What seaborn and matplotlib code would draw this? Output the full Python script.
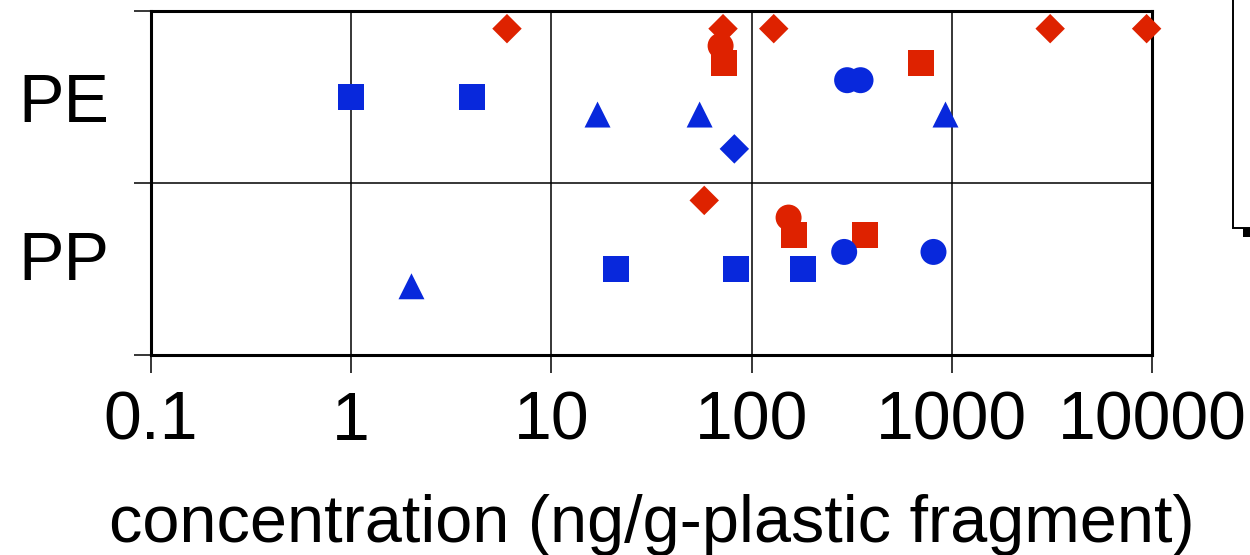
import pandas as pd
import matplotlib.pyplot as plt
import seaborn as sns
from matplotlib.patches import Rectangle
from matplotlib.ticker import FixedLocator, LogLocator, NullFormatter

sns.set_style('ticks')
plt.rcParams['font.family'] = ['Liberation Sans', 'DejaVu Sans']
plt.rcParams['text.color'] = 'black'
plt.rcParams['axes.labelcolor'] = 'black'
plt.rcParams['xtick.color'] = 'black'
plt.rcParams['ytick.color'] = 'black'

# concentrations (ng/g-plastic fragment), one list per polymer and series
pe_a = [6, 72, 129, 3100, 9400]     # red diamonds
pe_b = [70]                          # red circles
pe_c = [73, 700]                     # red squares
pe_d = [300, 350]                    # blue circles
pe_e = [1, 4]                        # blue squares
pe_f = [17, 55, 930]                 # blue triangles
pe_g = [82]                          # blue diamonds

pp_a = [58]
pp_b = [153]
pp_c = [163, 370]
pp_d = [290, 810]
pp_e = [21, 84, 181]
pp_f = [2]
pp_g = []

polymers = ['PE', 'PP']
series = ['A', 'B', 'C', 'D', 'E', 'F', 'G']
values = {
    'PE': [pe_a, pe_b, pe_c, pe_d, pe_e, pe_f, pe_g],
    'PP': [pp_a, pp_b, pp_c, pp_d, pp_e, pp_f, pp_g],
}

# row position of each series inside a polymer band
offsets = {'A': 0.1, 'B': 0.2, 'C': 0.3, 'D': 0.4, 'E': 0.5, 'F': 0.6, 'G': 0.8}
red = '#DE2200'
blue = '#0828DC'
palette = {'A': red, 'B': red, 'C': red, 'D': blue, 'E': blue, 'F': blue, 'G': blue}
markers = {'A': 'D', 'B': 'o', 'C': 's', 'D': 'o', 'E': 's', 'F': '^', 'G': 'D'}
sizes = {'A': 225, 'B': 350, 'C': 350, 'D': 350, 'E': 350, 'F': 350, 'G': 225}

rows = []
for i, p in enumerate(polymers):
    for s, vals in zip(series, values[p]):
        for v in vals:
            rows.append({'polymer': p, 'series': s, 'conc': v, 'ypos': i + offsets[s]})
df = pd.DataFrame(rows)

fig = plt.figure(figsize=(12.5, 5.55), dpi=100)
ax = fig.add_axes([0.1208, 0.3604, 0.8008, 0.6189])

sns.scatterplot(data=df, x='conc', y='ypos', hue='series', style='series', size='series',
                palette=palette, markers=markers, sizes=sizes, linewidth=0,
                legend=False, ax=ax, zorder=3, clip_on=False)

ax.set_xscale('log')
ax.set_xlim(0.1, 10000)
ax.set_ylim(2, 0)

ax.xaxis.set_major_locator(FixedLocator([0.1, 1, 10, 100, 1000, 10000]))
ax.set_xticklabels(['0.1', '1', '10', '100', '1000', '10000'])
ax.xaxis.set_minor_locator(LogLocator(base=10, subs=range(2, 10)))
ax.xaxis.set_minor_formatter(NullFormatter())

ax.yaxis.set_major_locator(FixedLocator([0, 1, 2]))
ax.set_yticklabels(['', '', ''])
ax.yaxis.set_minor_locator(FixedLocator([0.5, 1.42]))
ax.set_yticklabels(polymers, minor=True)

ax.tick_params(axis='x', which='major', length=13, width=1.1, pad=12, labelsize=49,
               color='black', labelcolor='black')
ax.tick_params(axis='x', which='minor', length=5, width=0.8, color='#444444')
ax.tick_params(axis='y', which='major', length=12, width=1.1, color='black')
ax.tick_params(axis='y', which='minor', length=0, pad=30, labelsize=49, labelcolor='black')

ax.grid(True, which='major', color='black', linewidth=1.1)
ax.set_axisbelow(True)
for sp in ax.spines.values():
    sp.set_linewidth(2.2)
    sp.set_color('black')

ax.set_xlabel('concentration (ng/g-plastic fragment)', fontsize=48, labelpad=29, color='black')
ax.set_ylabel('')

# edge of the legend box that sits outside the figure
fig.patches.append(Rectangle((1243 / 1250, 1 - 237 / 555), 0.1, 0.6, transform=fig.transFigure,
                             facecolor='black', edgecolor='none', zorder=1))
fig.patches.append(Rectangle((1233 / 1250, 1 - 228 / 555), 0.1, 0.6, transform=fig.transFigure,
                             facecolor='white', edgecolor='black', linewidth=1.4, zorder=2))

fig.savefig('out.png', dpi=100)
